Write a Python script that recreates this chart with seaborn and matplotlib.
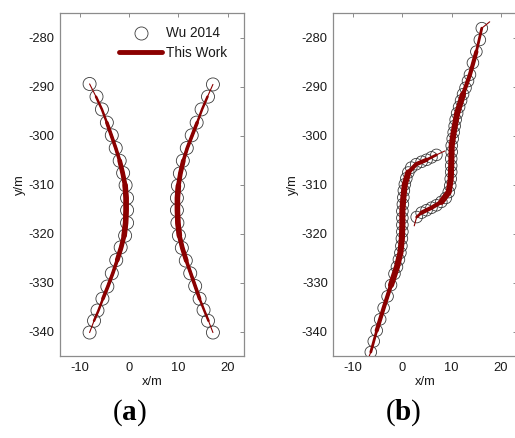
import numpy as np
import pandas as pd
import matplotlib
matplotlib.use("Agg")
import matplotlib.pyplot as plt
from matplotlib.lines import Line2D
import seaborn as sns

sns.set_theme(style="white")
plt.rcParams["font.family"] = ["Liberation Sans", "DejaVu Sans"]
plt.rcParams["axes.unicode_minus"] = False
plt.rcParams["mathtext.fontset"] = "custom"
plt.rcParams["mathtext.rm"] = "Liberation Serif"
plt.rcParams["mathtext.bf"] = "Liberation Serif:bold"

# ---------------- (a) two symmetric curves ----------------
wu_a_left_x = [-8.0, -6.6, -5.5, -4.5, -3.5, -2.7, -1.9, -1.2, -0.7, -0.4, -0.4,
               -0.4, -0.8, -1.7, -2.6, -3.5, -4.4, -5.4, -6.4, -7.1, -8.0]
wu_a_left_y = [-289.4, -292.0, -294.6, -297.3, -299.9, -302.5, -305.1, -307.6, -310.1, -312.7, -315.2,
               -317.8, -320.4, -322.8, -325.4, -328.1, -330.8, -333.3, -335.7, -337.8, -340.2]
wu_a_right_x = [17.0, 16.0, 14.7, 13.7, 12.7, 11.7, 10.9, 10.3, 9.9, 9.7, 9.7,
                9.8, 10.1, 10.7, 11.5, 12.4, 13.4, 14.3, 15.1, 16.0, 17.0]
wu_a_right_y = [-289.5, -292.0, -294.6, -297.3, -299.9, -302.5, -305.1, -307.7, -310.2, -312.7, -315.2,
                -317.8, -320.4, -322.9, -325.5, -328.1, -330.7, -333.3, -335.6, -337.8, -340.2]

tw_a_left_x = [-8.0, -6.7, -5.5, -4.5, -3.6, -2.7, -1.9, -1.3, -0.8, -0.6, -0.6,
               -0.7, -1.0, -1.6, -2.4, -3.3, -4.3, -5.3, -6.2, -7.1, -8.0]
tw_a_left_y = wu_a_left_y
tw_a_right_x = [17.0, 15.9, 14.8, 13.8, 12.8, 11.8, 11.0, 10.4, 10.0, 9.8, 9.8,
                9.9, 10.2, 10.8, 11.6, 12.5, 13.4, 14.3, 15.2, 16.1, 17.0]
tw_a_right_y = wu_a_right_y

# ---------------- (b) crossing S-shaped curves ----------------
wu_b1_x = [-6.4, -5.8, -5.2, -4.5, -3.8, -3.0, -2.3, -1.6, -1.1, -0.7, -0.4, -0.2, -0.1, 0.0,
           0.0, 0.0, 0.0, 0.1, 0.2, 0.3, 0.5, 0.8, 1.2, 1.8, 2.8, 3.9, 4.9, 5.9, 6.9]
wu_b1_y = [-344.2, -342.0, -339.8, -337.5, -335.2, -332.8, -330.5, -328.2, -326.8, -325.3, -323.9, -322.5, -321.0, -319.6,
           -318.2, -316.8, -315.4, -314.0, -312.6, -311.2, -309.9, -308.7, -307.5, -306.5, -305.8, -305.3, -304.9, -304.4, -303.9]
wu_b2_x = [2.9, 3.9, 4.9, 5.9, 6.9, 7.9, 8.8, 9.4, 9.7, 9.8, 9.9, 9.9, 9.9, 10.0, 10.0,
           10.2, 10.4, 10.6, 10.8, 11.1, 11.5, 11.9, 12.3, 12.8, 13.3, 13.7, 14.3, 15.0, 15.7, 16.1]
wu_b2_y = [-316.6, -315.7, -315.2, -314.7, -314.2, -313.5, -312.7, -311.5, -310.2, -308.8, -307.4, -306.1, -304.7, -303.3, -302.0,
           -300.6, -299.3, -298.0, -296.7, -295.4, -294.1, -292.8, -291.5, -290.2, -288.8, -287.5, -285.1, -282.8, -280.4, -278.0]

tw_b1_x = [-6.9, -6.4, -5.2, -3.8, -2.3, -1.1, -0.4, -0.1, 0.0, 0.0, 0.2, 0.5, 1.2, 2.8, 4.9, 6.9, 8.6]
tw_b1_y = [-345.5, -344.2, -339.8, -335.2, -330.5, -326.8, -323.9, -321.0, -318.2, -315.4, -312.6, -309.9,
           -307.5, -305.8, -304.9, -303.9, -303.1]
tw_b2_x = [2.4, 2.9, 3.9, 5.9, 7.9, 9.4, 9.8, 9.9, 10.0, 10.4, 11.1, 12.3, 13.7, 15.0, 16.1, 17.7]
tw_b2_y = [-318.4, -316.6, -315.7, -314.7, -313.5, -311.5, -308.8, -306.1, -302.0, -299.3, -295.4,
           -291.5, -287.5, -282.8, -278.0, -276.7]

x_ticks = [-10, 0, 10, 20]
y_ticks = [-340, -330, -320, -310, -300, -290, -280]
x_lim = (-14.0, 23.3)
y_lim = (-345.0, -275.0)

RED = "#8b0000"
EDGE = "#3a3a3a"
SPINE = "#8c8c8c"
FS = 9.3

fig = plt.figure(figsize=(5.15, 4.38), dpi=100)
ax_a = fig.add_axes([0.1165, 0.1872, 0.3573, 0.782])
ax_b = fig.add_axes([0.6472, 0.1872, 0.3573, 0.782])


def tapered_path(ax, xs, ys, layers):
    """Draw a path as stacked lines, wider towards the middle."""
    n = len(xs)
    for trim, lw in layers:
        if n - 2 * trim < 2:
            continue
        seg = pd.DataFrame({"x": xs[trim:n - trim], "y": ys[trim:n - trim]})
        sns.lineplot(data=seg, x="x", y="y", ax=ax, sort=False, estimator=None,
                     color=RED, lw=lw, solid_capstyle="round", zorder=3)


def circles(ax, xs, ys, size):
    df = pd.DataFrame({"x": xs, "y": ys})
    sns.scatterplot(data=df, x="x", y="y", ax=ax, s=size, marker="o",
                    facecolors="none", edgecolor=EDGE, linewidth=0.6, zorder=2)


circles(ax_a, wu_a_left_x, wu_a_left_y, 88)
circles(ax_a, wu_a_right_x, wu_a_right_y, 88)
layers_a = [(0, 0.8), (1, 1.8), (3, 2.6), (6, 3.4), (8, 4.0)]
tapered_path(ax_a, tw_a_left_x, tw_a_left_y, layers_a)
tapered_path(ax_a, tw_a_right_x, tw_a_right_y, layers_a)

circles(ax_b, wu_b1_x, wu_b1_y, 70)
circles(ax_b, wu_b2_x, wu_b2_y, 70)
layers_b = [(0, 0.8), (1, 2.0), (2, 3.0), (4, 4.4)]
tapered_path(ax_b, tw_b1_x, tw_b1_y, layers_b)
tapered_path(ax_b, tw_b2_x, tw_b2_y, layers_b)

for ax in (ax_a, ax_b):
    ax.set_xlim(*x_lim)
    ax.set_ylim(*y_lim)
    ax.set_xticks(x_ticks)
    ax.set_yticks(y_ticks)
    ax.set_xticklabels([str(v) for v in x_ticks])
    ax.set_yticklabels([str(v) for v in y_ticks])
    ax.set_xlabel("x/m", fontsize=FS, color="#1a1a1a", labelpad=2)
    ax.set_ylabel("y/m", fontsize=FS, color="#1a1a1a", labelpad=2)
    ax.tick_params(direction="in", length=3, width=0.7, color=SPINE,
                   top=True, right=True, labelsize=FS, labelcolor="#1a1a1a", pad=4)
    for sp in ax.spines.values():
        sp.set_color(SPINE)
        sp.set_linewidth(0.9)
        sp.set_visible(True)
    ax.set_facecolor("white")
    ax.grid(False)

handles = [
    Line2D([], [], ls="none", marker="o", markersize=9.4, markerfacecolor="none",
           markeredgecolor=EDGE, markeredgewidth=0.6),
    Line2D([], [], color=RED, lw=3.5),
]
leg = ax_a.legend(handles, ["Wu 2014", "This Work"], loc="upper right",
                  bbox_to_anchor=(0.962, 0.99), frameon=False, fontsize=9.8,
                  handlelength=3.2, handletextpad=0.3, labelspacing=0.42, borderaxespad=0.3)
for t in leg.get_texts():
    t.set_color("#1a1a1a")

fig.text(0.252, 0.057, r"($\mathbf{a}$)", ha="center", va="center",
         fontsize=21, family="Liberation Serif", color="black")
fig.text(0.783, 0.057, r"($\mathbf{b}$)", ha="center", va="center",
         fontsize=21, family="Liberation Serif", color="black")

fig.savefig("out.png", dpi=100, facecolor="white")
